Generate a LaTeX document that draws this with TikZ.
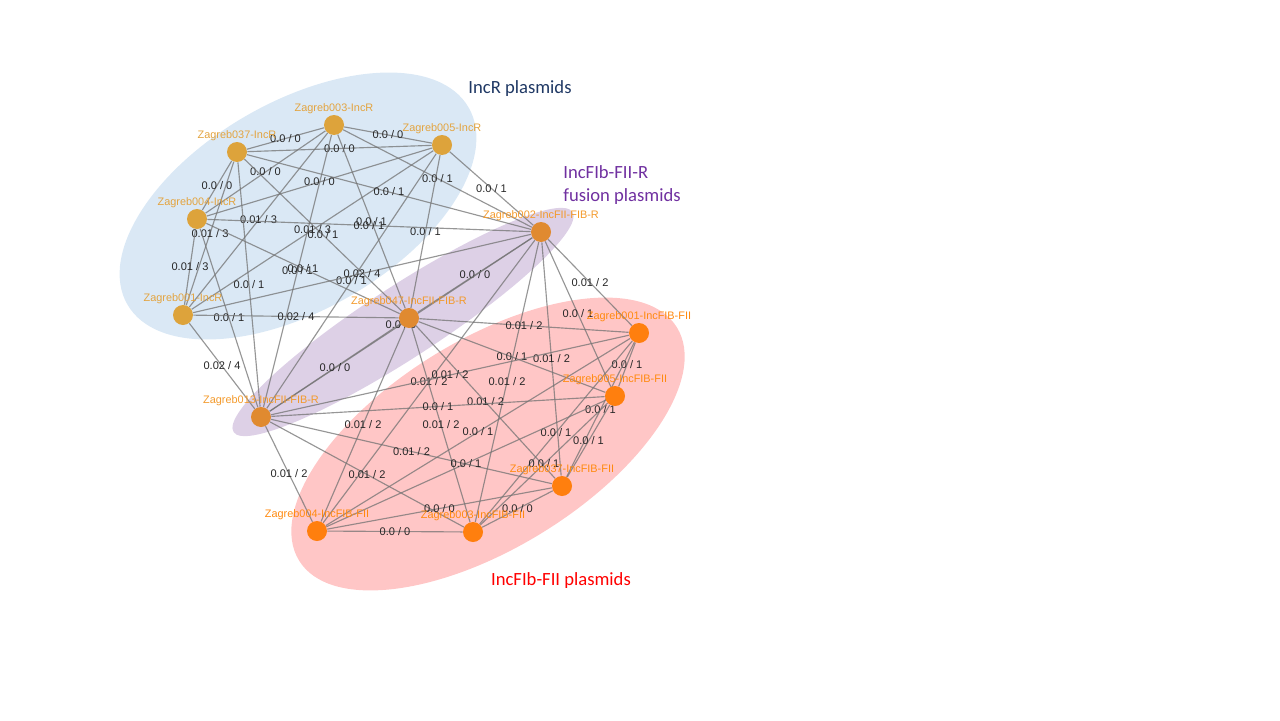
\documentclass[tikz,border=0pt]{standalone}
\usepackage{fontspec}
\setmainfont{Liberation Sans}
\newfontfamily\calibri{Carlito}
\usepackage{xcolor}
\usepackage{tikz}

\definecolor{incrzone}{HTML}{DAE8F5}
\definecolor{fusionzone}{HTML}{DDD0E6}
\definecolor{fibzone}{HTML}{FFC6C6}
\definecolor{incrnode}{HTML}{DDA33B}
\definecolor{incrname}{HTML}{E3A440}
\definecolor{fusionnode}{HTML}{E08A30}
\definecolor{fusionname}{HTML}{F39A2C}
\definecolor{fibnode}{HTML}{FF7F0E}
\definecolor{fibname}{HTML}{FF8A10}
\definecolor{incrtitle}{HTML}{1F3864}
\definecolor{fusiontitle}{HTML}{7030A0}
\definecolor{fibtitle}{HTML}{FF0000}

\pgfdeclarelayer{background}
\pgfdeclarelayer{foreground}
\pgfsetlayers{background,main,foreground}

\begin{document}
\begin{tikzpicture}[
    x=0.02cm,y=-0.02cm,
    link/.style={draw=black!55,draw opacity=.75,line width=0.65pt},
    dist/.style={font=\fontsize{6.3}{7}\selectfont,text=black!85,inner sep=0pt},
    namelabel/.style={font=\fontsize{6.2}{7}\selectfont,inner sep=0pt,label distance=0.3pt},
    plasmid/.style={circle,minimum size=0.4cm,inner sep=0pt},
    incr/.style={plasmid,fill=incrnode,label={[namelabel,text=incrname]above:#1}},
    fusion/.style={plasmid,fill=fusionnode,label={[namelabel,text=fusionname]above:#1}},
    fib/.style={plasmid,fill=fibnode,label={[namelabel,text=fibname]above:#1}},
    grouptitle/.style={font=\calibri\fontsize{10.6}{13}\selectfont,inner sep=0pt}
  ]
    \useasboundingbox (0,0) rectangle (1280,720);

    % group zones
    \begin{pgfonlayer}{background}
    \fill[incrzone,rotate around={30:(298,206)}] (298,206) ellipse [x radius=197,y radius=104];
    \fill[fusionzone,rotate around={33:(403,322)}] (403,322) ellipse [x radius=202,y radius=36];
    \fill[fibzone,rotate around={31.7:(488,444)}] (488,444) ellipse [x radius=222,y radius=104];
    \node[grouptitle,text=incrtitle] (incrhead) at (520,89) {IncR plasmids};
    \node[grouptitle,text=fusiontitle,anchor=west,align=left] (fusionhead) at (563,185) {IncFIb-FII-R\\fusion plasmids};
    \node[grouptitle,text=fibtitle] (fibhead) at (561,581) {IncFIb-FII plasmids};
    \end{pgfonlayer}

    % plasmids
    \begin{pgfonlayer}{foreground}
    \node[incr=Zagreb003-IncR] (r003) at (334,125) {};
    \node[incr=Zagreb005-IncR] (r005) at (442,145) {};
    \node[incr=Zagreb037-IncR] (r037) at (237,152) {};
    \node[incr=Zagreb004-IncR] (r004) at (197,219) {};
    \node[incr=Zagreb001-IncR] (r001) at (183,315) {};
    \node[fusion=Zagreb002-IncFII-FIB-R] (f002) at (541,232) {};
    \node[fusion=Zagreb047-IncFII-FIB-R] (f047) at (409,318) {};
    \node[fusion=Zagreb013-IncFII-FIB-R] (f013) at (261,417) {};
    \node[fib=Zagreb001-IncFIB-FII] (b001) at (639,333) {};
    \node[fib=Zagreb005-IncFIB-FII] (b005) at (615,396) {};
    \node[fib=Zagreb037-IncFIB-FII] (b037) at (562,486) {};
    \node[fib=Zagreb004-IncFIB-FII] (b004) at (317,531) {};
    \node[fib=Zagreb003-IncFIB-FII] (b003) at (473,532) {};
    \end{pgfonlayer}

    % IncR -- IncR
    \draw[link] (r003) -- node[dist]{0.0 / 0} (r005);
    \draw[link] (r003) -- node[dist]{0.0 / 0} (r037);
    \draw[link] (r003) -- node[dist]{0.0 / 0} (r004);
    \draw[link] (r003) -- node[dist]{0.01 / 3} (r001);
    \draw[link] (r005) -- node[dist]{0.0 / 0} (r037);
    \draw[link] (r005) -- node[dist]{0.0 / 0} (r004);
    \draw[link] (r005) -- node[dist]{0.01 / 3} (r001);
    \draw[link] (r037) -- node[dist]{0.0 / 0} (r004);
    \draw[link] (r037) -- node[dist]{0.01 / 3} (r001);
    \draw[link] (r004) -- node[dist]{0.01 / 3} (r001);

    % IncR -- fusion
    \draw[link] (r003) -- node[dist]{0.0 / 1} (f002);
    \draw[link] (r003) -- node[dist]{0.0 / 1} (f047);
    \draw[link] (r003) -- node[dist]{0.0 / 1} (f013);
    \draw[link] (r005) -- node[dist]{0.0 / 1} (f002);
    \draw[link] (r005) -- node[dist]{0.0 / 1} (f047);
    \draw[link] (r005) -- node[dist]{0.0 / 1} (f013);
    \draw[link] (r037) -- node[dist]{0.0 / 1} (f002);
    \draw[link] (r037) -- node[dist]{0.0 / 1} (f047);
    \draw[link] (r037) -- node[dist]{0.0 / 1} (f013);
    \draw[link] (r004) -- node[dist]{0.0 / 1} (f002);
    \draw[link] (r004) -- node[dist]{0.0 / 1} (f047);
    \draw[link] (r004) -- node[dist]{0.0 / 1} (f013);
    \draw[link] (r001) -- node[dist]{0.02 / 4} (f002);
    \draw[link] (r001) -- node[dist]{0.02 / 4} (f047);
    \draw[link] (r001) -- node[dist]{0.02 / 4} (f013);

    % fusion -- fusion
    \draw[link] (f002) -- node[dist]{0.0 / 0} (f047);
    \draw[link] (f002) -- node[dist]{0.0 / 0} (f013);
    \draw[link] (f047) -- node[dist]{0.0 / 0} (f013);

    % fusion -- IncFIB-FII
    \draw[link] (f002) -- node[dist]{0.01 / 2} (b001);
    \draw[link] (f002) -- node[dist]{0.0 / 1} (b005);
    \draw[link] (f002) -- node[dist]{0.01 / 2} (b037);
    \draw[link] (f002) -- node[dist]{0.01 / 2} (b004);
    \draw[link] (f002) -- node[dist]{0.01 / 2} (b003);
    \draw[link] (f047) -- node[dist]{0.01 / 2} (b001);
    \draw[link] (f047) -- node[dist]{0.0 / 1} (b005);
    \draw[link] (f047) -- node[dist]{0.01 / 2} (b037);
    \draw[link] (f047) -- node[dist]{0.01 / 2} (b004);
    \draw[link] (f047) -- node[dist]{0.01 / 2} (b003);
    \draw[link] (f013) -- node[dist]{0.01 / 2} (b001);
    \draw[link] (f013) -- node[dist]{0.0 / 1} (b005);
    \draw[link] (f013) -- node[dist]{0.01 / 2} (b037);
    \draw[link] (f013) -- node[dist]{0.01 / 2} (b004);
    \draw[link] (f013) -- node[dist]{0.01 / 2} (b003);

    % IncFIB-FII -- IncFIB-FII
    \draw[link] (b001) -- node[dist]{0.0 / 1} (b005);
    \draw[link] (b001) -- node[dist]{0.0 / 1} (b037);
    \draw[link] (b001) -- node[dist]{0.0 / 1} (b004);
    \draw[link] (b001) -- node[dist]{0.0 / 1} (b003);
    \draw[link] (b005) -- node[dist]{0.0 / 1} (b037);
    \draw[link] (b005) -- node[dist]{0.0 / 1} (b004);
    \draw[link] (b005) -- node[dist]{0.0 / 1} (b003);
    \draw[link] (b037) -- node[dist]{0.0 / 0} (b004);
    \draw[link] (b037) -- node[dist]{0.0 / 0} (b003);
    \draw[link] (b004) -- node[dist]{0.0 / 0} (b003);
  \end{tikzpicture}
\end{document}
